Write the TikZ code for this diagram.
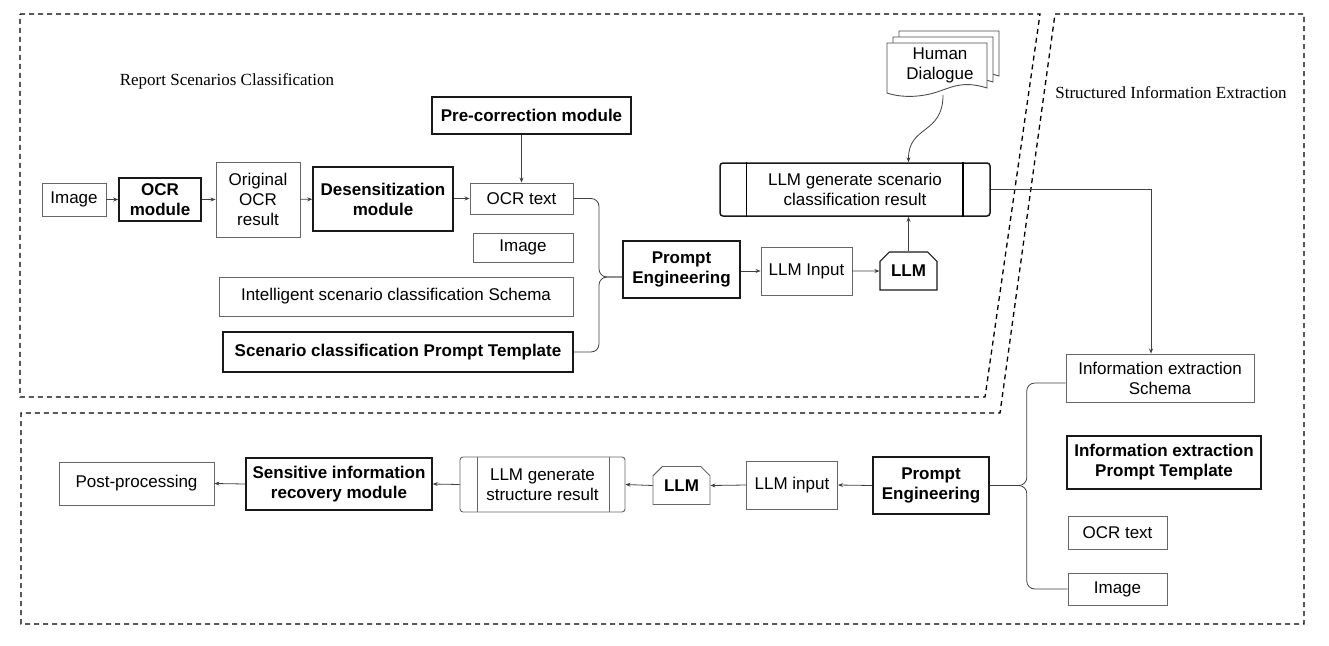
\documentclass[tikz,border=0pt]{standalone}
\usepackage{fontspec}
\setmainfont{Liberation Sans}
\newfontfamily\titlefont{Liberation Serif}
\usepackage{tikz}
\usetikzlibrary{shapes.misc,arrows.meta,calc}

\begin{document}
\begin{tikzpicture}[x=1pt, y=-1pt,
every node/.style={font=\fontsize{17}{20}\selectfont, align=center, inner sep=0pt},
thinbox/.style 2 args={draw=black!60, line width=0.9pt, minimum width=#1, minimum height=#2},
boldbox/.style 2 args={draw=black!90, line width=1.5pt, minimum width=#1, minimum height=#2,
  font=\fontsize{17}{20}\selectfont\bfseries},
llmbox/.style={chamfered rectangle, chamfered rectangle corners={north west,north east},
  chamfered rectangle xsep=10pt, minimum width=57, minimum height=38, font=\fontsize{17}{20}\selectfont\bfseries},
procbox/.style={rounded corners=3pt},
region/.style={draw=black, line width=1.3pt, dash pattern=on 5pt off 4pt},
link/.style={draw=black!75, line width=0.8pt},
arrow/.style={link, -{Stealth[length=5pt,width=4pt]}},
page/.style={draw=black!70, line width=0.9pt, fill=white},
title/.style={font=\titlefont\fontsize{17}{20}\selectfont}
]
\useasboundingbox (0,0) rectangle (1329,645);

% dashed regions
\draw[region] (20,14) -- (1040,14) -- (985,397) -- (20,397) -- cycle;
\draw[region] (1055,14) -- (1304,14) -- (1304,624) -- (21,624) -- (21,413) -- (1000,413) -- cycle;

\node[title] (title1) at (227,81) {Report Scenarios Classification};
\node[title] (title2) at (1171,93) {Structured Information Extraction};

% scenario classification
\node[thinbox={64}{33}] (img1) at (74,199.5) {Image};
\node[boldbox={82}{43}] (ocrmod) at (160,199.5) {OCR\\module};
\node[thinbox={84}{75}] (origocr) at (258,199.5) {Original\\OCR\\result};
\node[boldbox={140}{64}] (desens) at (383,199) {Desensitization\\module};
\node[thinbox={103}{31}] (ocrtext1) at (521.5,198.5) {OCR text};
\node[thinbox={100}{29}] (img2) at (523,247.5) {Image};
\node[thinbox={354}{39}] (schema1) at (396,296.5) {Intelligent scenario classification Schema};
\node[boldbox={350}{40}] (tmpl1) at (398,352) {Scenario classification Prompt Template};
\node[boldbox={199}{37}] (precorr) at (531.5,115.5) {Pre-correction module};
\node[boldbox={117}{57}] (pe1) at (681.5,269.5) {Prompt\\Engineering};
\node[thinbox={91}{48}] (llmin1) at (806.5,271) {LLM Input};
\node[llmbox, draw=black!90, line width=1.2pt] (llm1) at (908.5,271) {LLM};
\node[boldbox={270}{53}, procbox, font=\fontsize{17}{20}\selectfont] (gen1) at (855,189.5) {LLM generate scenario\\classification result};
\draw[line width=1.5pt] ($(gen1.north west)+(27,0)$) -- ($(gen1.south west)+(27,0)$);
\draw[line width=1.5pt] ($(gen1.north east)+(-28,0)$) -- ($(gen1.south east)+(-28,0)$);

% human dialogue pages
\foreach \d in {12,6,0}
  \draw[page, shift={(\d,-\d)}] (887,43) -- (987,43) -- (987,88)
    .. controls (962,80) and (950,88) .. (937,92)
    .. controls (925,96) and (905,99) .. (887,93) -- cycle;
\node (human) at (940,65) {Human\\Dialogue};
\coordinate (humanbot) at (943,95);

\draw[arrow] (img1) -- (ocrmod);
\draw[arrow] (ocrmod) -- (origocr);
\draw[arrow] (origocr) -- (desens);
\draw[arrow] (desens.east |- ocrtext1.west) -- (ocrtext1.west);
\draw[arrow] (precorr.south -| ocrtext1.north) -- (ocrtext1.north);
\coordinate (tip1) at (599,277);
\draw[link, rounded corners=8pt] (ocrtext1.east) -| (tip1) -- (tip1 -| pe1.west);
\draw[link, rounded corners=8pt] (tmpl1.east) -| (tip1) -- (tip1 -| pe1.west);
\draw[arrow] (pe1.east |- llmin1.west) -- (llmin1.west);
\draw[arrow] (llmin1) -- (llm1);
\draw[arrow] (llm1.north) -- (llm1.north |- gen1.south);
\draw[arrow] (humanbot) .. controls (943,135) and (908,125) .. (llm1.north |- gen1.north);

% information extraction
\node[thinbox={188}{48}] (schema2) at (1160,378) {Information extraction\\Schema};
\node[boldbox={194}{53}] (tmpl2) at (1164,462.5) {Information extraction\\Prompt Template};
\node[thinbox={99}{33}] (ocrtext2) at (1117.5,532.5) {OCR text};
\node[thinbox={99}{32}] (img3) at (1117.5,589) {Image};
\node[boldbox={116}{57}] (pe2) at (931,485.5) {Prompt\\Engineering};
\node[thinbox={91}{48}] (llmin2) at (792,485) {LLM input};
\node[llmbox, draw=black!60, line width=0.9pt] (llm2) at (681.5,485.5) {LLM};
\node[thinbox={165}{55}, procbox] (gen2) at (542.5,484.5) {LLM generate\\structure result};
\draw[link, draw=black!60] ($(gen2.north west)+(18,0)$) -- ($(gen2.south west)+(18,0)$);
\draw[link, draw=black!60] ($(gen2.north east)+(-16,0)$) -- ($(gen2.south east)+(-16,0)$);
\node[boldbox={186}{52}] (sens) at (339,484) {Sensitive information\\recovery module};
\node[thinbox={155}{43}] (post) at (136.5,483.5) {Post-processing};

\draw[arrow] (gen1.east) -| ([xshift=-9pt]schema2.north);
\draw[link, rounded corners=8pt] (pe2.east) -- ++(37,0) |- ([yshift=-5pt]schema2.west);
\draw[link, rounded corners=8pt] (pe2.east) -- ++(37,0) |- (img3.west);
\draw[arrow] (pe2.west) -- (llmin2.east);
\draw[arrow] (llmin2.west) -- (llm2.east);
\draw[arrow] (llm2.west) -- (gen2.east);
\draw[arrow] (gen2.west) -- (sens.east);
\draw[arrow] (sens.west) -- (post.east);
\end{tikzpicture}
\end{document}
